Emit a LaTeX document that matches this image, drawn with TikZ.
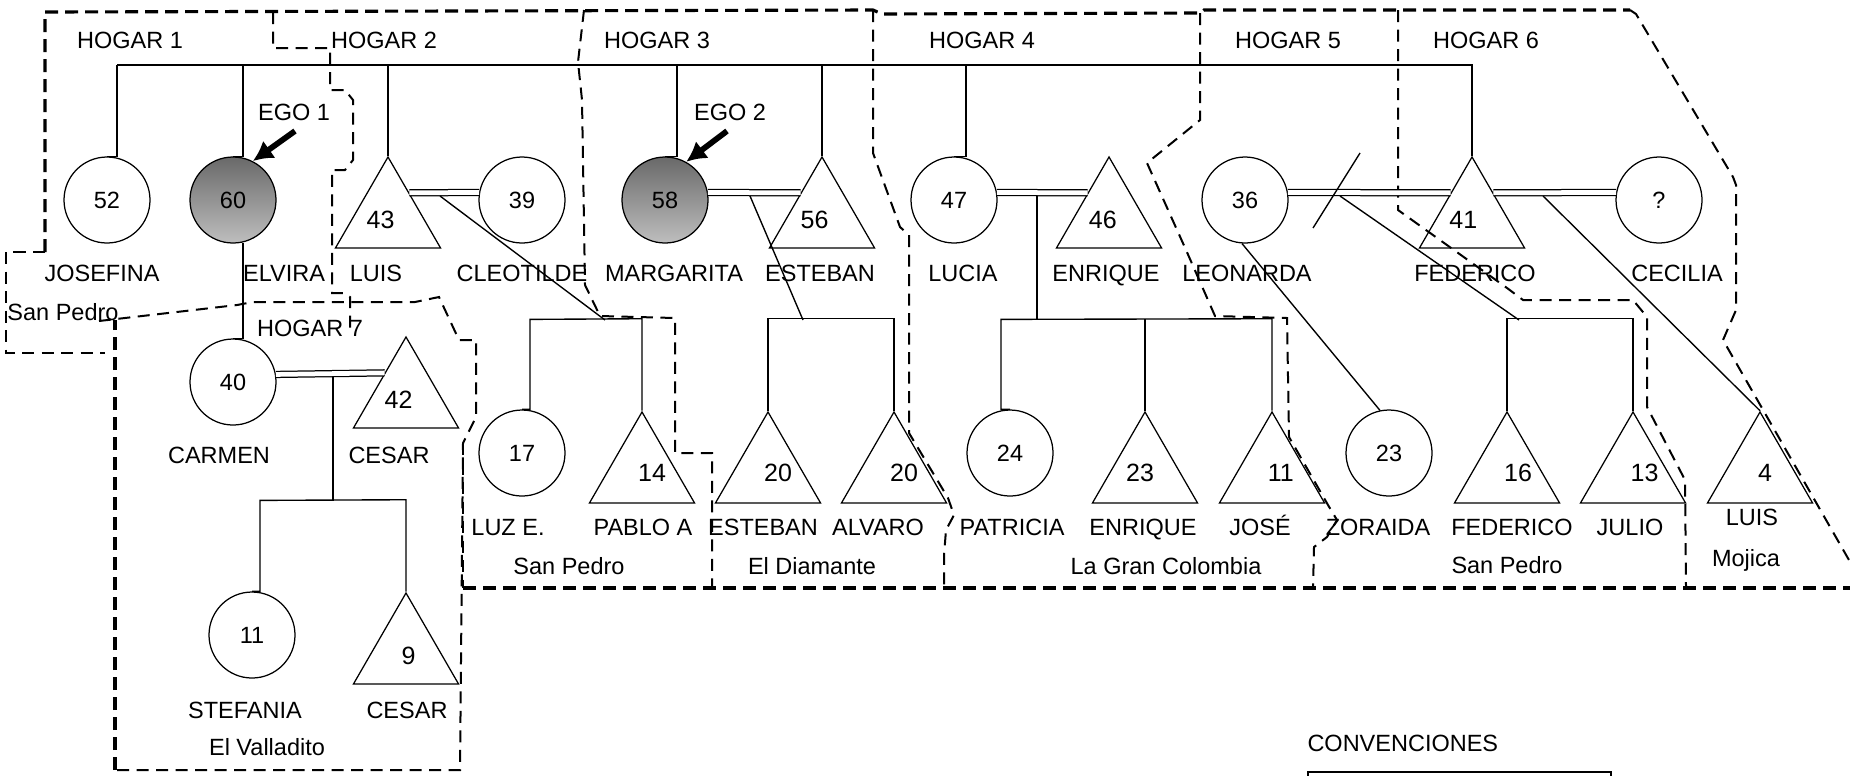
\documentclass[tikz,border=0pt]{standalone}
\usepackage{fontspec}
\setmainfont{Liberation Sans}
\usetikzlibrary{shapes.geometric,calc,arrows.meta}
\definecolor{egotop}{RGB}{105,105,105}
\definecolor{egobot}{RGB}{190,190,190}
\newcommand{\dfont}{\fontsize{9.4pt}{11pt}\selectfont}
\tikzset{
  fem/.style={circle, draw, line width=0.5pt, minimum size=34.4pt, inner sep=0pt, font=\dfont},
  ego/.style={fem, top color=egotop, bottom color=egobot},
  masc/.style={regular polygon, regular polygon sides=3, draw, line width=0.5pt, minimum size=48.5pt, inner sep=0pt, font=\dfont},
  lbl/.style={inner sep=0pt, font=\dfont, text height=6.8pt, text depth=0pt},
  rel/.style={draw, line width=0.55pt},
  marr/.style={draw, line width=0.5pt, double, double distance=1.9pt},
  bnd/.style={draw, line width=0.8pt, dash pattern=on 4.8pt off 3pt},
  bndT/.style={draw, line width=1.25pt, dash pattern=on 5.2pt off 2.8pt},
  egoarr/.style={draw, line width=2.3pt, -{Latex[length=8pt,width=8.5pt]}}
}
\begin{document}
\begin{tikzpicture}[x=0.4pt,y=-0.4pt]
\clip (0,0) rectangle (1850,775);
\fill[white] (0,0) rectangle (1850,775);

% ---- household boundaries ----
\draw[bndT] (45,252) -- (45,12) -- (873,10) -- (882,14) -- (1200,13) -- (1204,10) -- (1630,10);
\draw[bndT] (115,770) -- (115,320);
\draw[bndT] (463,588) -- (1850,588);
\draw[bnd] (45,252) -- (6,252) -- (6,353) -- (105,353);
\draw[bnd] (99,321) -- (237,305) -- (253,302) -- (415,302) -- (439,297) -- (459,340) -- (476,340) -- (476,417) -- (463,443) -- (460,770) -- (115,770);
\draw[bnd] (463,443) -- (463,588);
\draw[bnd] (273,12) -- (273,48) -- (330,48) -- (330,90) -- (345,90) -- (353,100) -- (353,160) -- (345,170) -- (332,170) -- (332,293) -- (344,293) -- (350,297) -- (350,333);
\draw[bnd] (584,10) -- (578,62) -- (582,100) -- (585,285) -- (600,316) -- (675,318) -- (675,453) -- (712,453) -- (712,588);
\draw[bnd] (873,10) -- (873,153) -- (900,227) -- (909,235) -- (909,433) -- (948,498) -- (954,515) -- (946,530) -- (944,555) -- (944,588);
\draw[bnd] (1200,13) -- (1200,120) -- (1147,163) -- (1186,250) -- (1215,316) -- (1287,318) -- (1289,437) -- (1328,505) -- (1337,520) -- (1327,537) -- (1314,547) -- (1313,588);
\draw[bnd] (1398,10) -- (1398,210) -- (1507,288) -- (1523,300) -- (1633,300) -- (1647,317) -- (1647,407) -- (1685,480) -- (1686,588);
\draw[bnd] (1630,10) -- (1636,14) -- (1733,177) -- (1736,185) -- (1736,310) -- (1723,340) -- (1865,588);

% ---- people: generation 1 ----
\node[fem] (c52) at (107,200) {52};
\node[ego] (c60) at (233,200) {60};
\node[masc, label={[xshift=-3pt,yshift=-1pt]center:43}] (t43) at (388,217.6) {};
\node[fem] (c39) at (522,200) {39};
\node[ego] (c58) at (665,200) {58};
\node[masc, label={[xshift=-3pt,yshift=-1pt]center:56}] (t56) at (822,217.6) {};
\node[fem] (c47) at (954,200) {47};
\node[masc, label={[xshift=-2.5pt,yshift=-1pt]center:46}] (t46) at (1109,217.6) {};
\node[fem] (c36) at (1245,200) {36};
\node[masc, label={[xshift=-3.5pt,yshift=-1pt]center:41}] (t41) at (1472,217.6) {};
\node[fem] (cq) at (1659,200) {?};

% ---- Hogar 7 ----
\node[fem] (c40) at (233,382) {40};
\node[masc, label={[xshift=-3pt,yshift=-1pt]center:42}] (t42) at (406,397.6) {};
\node[fem] (c11) at (252,635) {11};
\node[masc, label={[xshift=1pt,yshift=-1pt]center:9}] (t9) at (406,653.6) {};

% ---- generation 2 ----
\node[fem] (c17) at (522,453) {17};
\node[masc, label={[xshift=4pt]center:14}] (t14) at (642,472.6) {};
\node[masc, label={[xshift=4pt]center:20}] (t20a) at (768,472.6) {};
\node[masc, label={[xshift=4pt]center:20}] (t20b) at (894,472.6) {};
\node[fem] (c24) at (1010,453) {24};
\node[masc, label={[xshift=-2pt]center:23}] (t23) at (1145,472.6) {};
\node[masc, label={[xshift=3.5pt]center:11}] (t11) at (1272,472.6) {};
\node[fem] (c23) at (1389,453) {23};
\node[masc, label={[xshift=4.4pt]center:16}] (t16) at (1507,472.6) {};
\node[masc, label={[xshift=4.6pt]center:13}] (t13) at (1633,472.6) {};
\node[masc, label={[xshift=2pt]center:4}] (t4) at (1760,472.6) {};

% ---- sibling line, generation 1 ----
\coordinate (topL) at (117,65);
\coordinate (topR) at (1472,65);
\draw[rel] (topL) -- (topR);
\draw[rel] (c52.north) -| (topL);
\draw[rel] (c60.north) -| ($(c60.north)+(10,-92)$);
\draw[rel] (t43.corner 1) -- ++(0,-92);
\draw[rel] (c58.north) -| ($(c58.north)+(12,-92)$);
\draw[rel] (t56.corner 1) -- ++(0,-92);
\draw[rel] (c47.north) -| ($(c47.north)+(12,-92)$);
\draw[rel] (t41.corner 1) -- ++(0,-92);

% ---- marriages ----
\draw[marr] ($(t43.corner 1)!0.4!(t43.corner 3)$) -- (c39.170);
\draw[marr] (c58.10) -- ($(t56.corner 1)!0.4!(t56.corner 2)$);
\draw[marr] (c47.10) -- ($(t46.corner 1)!0.4!(t46.corner 2)$);
\draw[marr] (c36.10) -- ($(t41.corner 1)!0.4!(t41.corner 2)$);
\draw[marr] ($(t41.corner 1)!0.4!(t41.corner 3)$) -- (cq.170);
\draw[marr] (c40.10) -- ($(t42.corner 1)!0.4!(t42.corner 2)$);

% ---- descents ----
\coordinate (d1) at (440,196);   \coordinate (d1e) at (605,320);
\coordinate (d2) at (750,196);   \coordinate (d2e) at (803,320);
\coordinate (d3) at (1037,196);  \coordinate (d3e) at (1037,320);
\coordinate (d4) at (1340,196);  \coordinate (d4e) at (1519,320);
\coordinate (d5) at (1543,196);
\coordinate (d6) at (333,377);   \coordinate (d6e) at (333,501);
\draw[rel] (d1) -- (d1e);
\draw[rel] (d2) -- (d2e);
\draw[rel] (d3) -- (d3e);
\draw[rel] (d4) -- (d4e);
\draw[rel] (d5) -- (t4.corner 1);
\draw[rel] (d6) -- (d6e);
\draw[rel] (c36.-94) -- (c23.102);
\coordinate (dv1) at (1313,228); \coordinate (dv2) at (1360,153);
\draw[rel] (dv1) -- (dv2);

% Elvira -> Carmen
\draw[rel] (c40.north) -| (c60.-77);

% ---- sibling lines, generation 2 ----
\draw[rel] (c17.north) -| ($(c17.north)+(8,-90)$) -- ($(t14.corner 1)+(0,-92)$) -- (t14.corner 1);
\draw[rel] (t20a.corner 1) -- ++(0,-92) -- ($(t20b.corner 1)+(0,-92)$) -- (t20b.corner 1);
\draw[rel] (c24.north) -| ($(c24.north)+(-9,-90)$) -- ($(t11.corner 1)+(0,-92)$) -- (t11.corner 1);
\draw[rel] (t23.corner 1) -- ++(0,-92);
\draw[rel] (t16.corner 1) -- ++(0,-92) -- ($(t13.corner 1)+(0,-92)$) -- (t13.corner 1);
\draw[rel] (c11.north) -| ($(c11.north)+(8,-91)$) -- ($(t9.corner 1)+(0,-92)$) -- (t9.corner 1);

% ---- ego arrows ----
\node[lbl] (ego1) at (294,112) {EGO 1};
\node[lbl] (ego2) at (730,112) {EGO 2};
\coordinate (a1) at (295,131);
\coordinate (a2) at (727,131);
\draw[egoarr] (a1) -- (c60.63);
\draw[egoarr] (a2) -- (c58.61);

% ---- household labels ----
\node[lbl] (h1) at (130,40) {HOGAR 1};
\node[lbl] (h2) at (384,40) {HOGAR 2};
\node[lbl] (h3) at (657,40) {HOGAR 3};
\node[lbl] (h4) at (982,40) {HOGAR 4};
\node[lbl] (h5) at (1288,40) {HOGAR 5};
\node[lbl] (h6) at (1486,40) {HOGAR 6};
\node[lbl] (h7) at (310,328) {HOGAR 7};

% ---- names ----
\node[lbl] (n1) at (102,273) {JOSEFINA};
\node[lbl] (n2) at (284,273) {ELVIRA};
\node[lbl] (n3) at (376,273) {LUIS};
\node[lbl] (n4) at (522,273) {CLEOTILDE};
\node[lbl] (n5) at (674,273) {MARGARITA};
\node[lbl] (n6) at (820,273) {ESTEBAN};
\node[lbl] (n7) at (963,273) {LUCIA};
\node[lbl] (n8) at (1106,273) {ENRIQUE};
\node[lbl] (n9) at (1247,273) {LEONARDA};
\node[lbl] (n10) at (1475,273) {FEDERICO};
\node[lbl] (n11) at (1677,273) {CECILIA};
\node[lbl] (n12) at (219,455) {CARMEN};
\node[lbl] (n13) at (389,455) {CESAR};
\node[lbl] (n14) at (508,527) {LUZ E.};
\node[lbl] (n15) at (643,527) {PABLO A};
\node[lbl] (n16) at (763,527) {ESTEBAN};
\node[lbl] (n17) at (878,527) {ALVARO};
\node[lbl] (n18) at (1012,527) {PATRICIA};
\node[lbl] (n19) at (1143,527) {ENRIQUE};
\node[lbl] (n20) at (1260,527) {JOSÉ};
\node[lbl] (n21) at (1378,527) {ZORAIDA};
\node[lbl] (n22) at (1512,527) {FEDERICO};
\node[lbl] (n23) at (1630,527) {JULIO};
\node[lbl] (n24) at (1752,517) {LUIS};
\node[lbl] (n25) at (245,710) {STEFANIA};
\node[lbl] (n26) at (407,710) {CESAR};

% ---- places ----
\node[lbl] (p1) at (63,312) {San Pedro};
\node[lbl] (p2) at (569,566) {San Pedro};
\node[lbl] (p3) at (812,566) {El Diamante};
\node[lbl] (p4) at (1166,566) {La Gran Colombia};
\node[lbl] (p5) at (1507,565) {San Pedro};
\node[lbl] (p6) at (1746,558) {Mojica};
\node[lbl] (p7) at (267,747) {El Valladito};

% ---- conventions ----
\node[lbl, anchor=west] (conv) at (1307,743) {CONVENCIONES};
\coordinate (cb1) at (1308,800); \coordinate (cb2) at (1611,772);
\draw[rel] (cb1) |- (cb2) -- ++(0,28);
\end{tikzpicture}
\end{document}
